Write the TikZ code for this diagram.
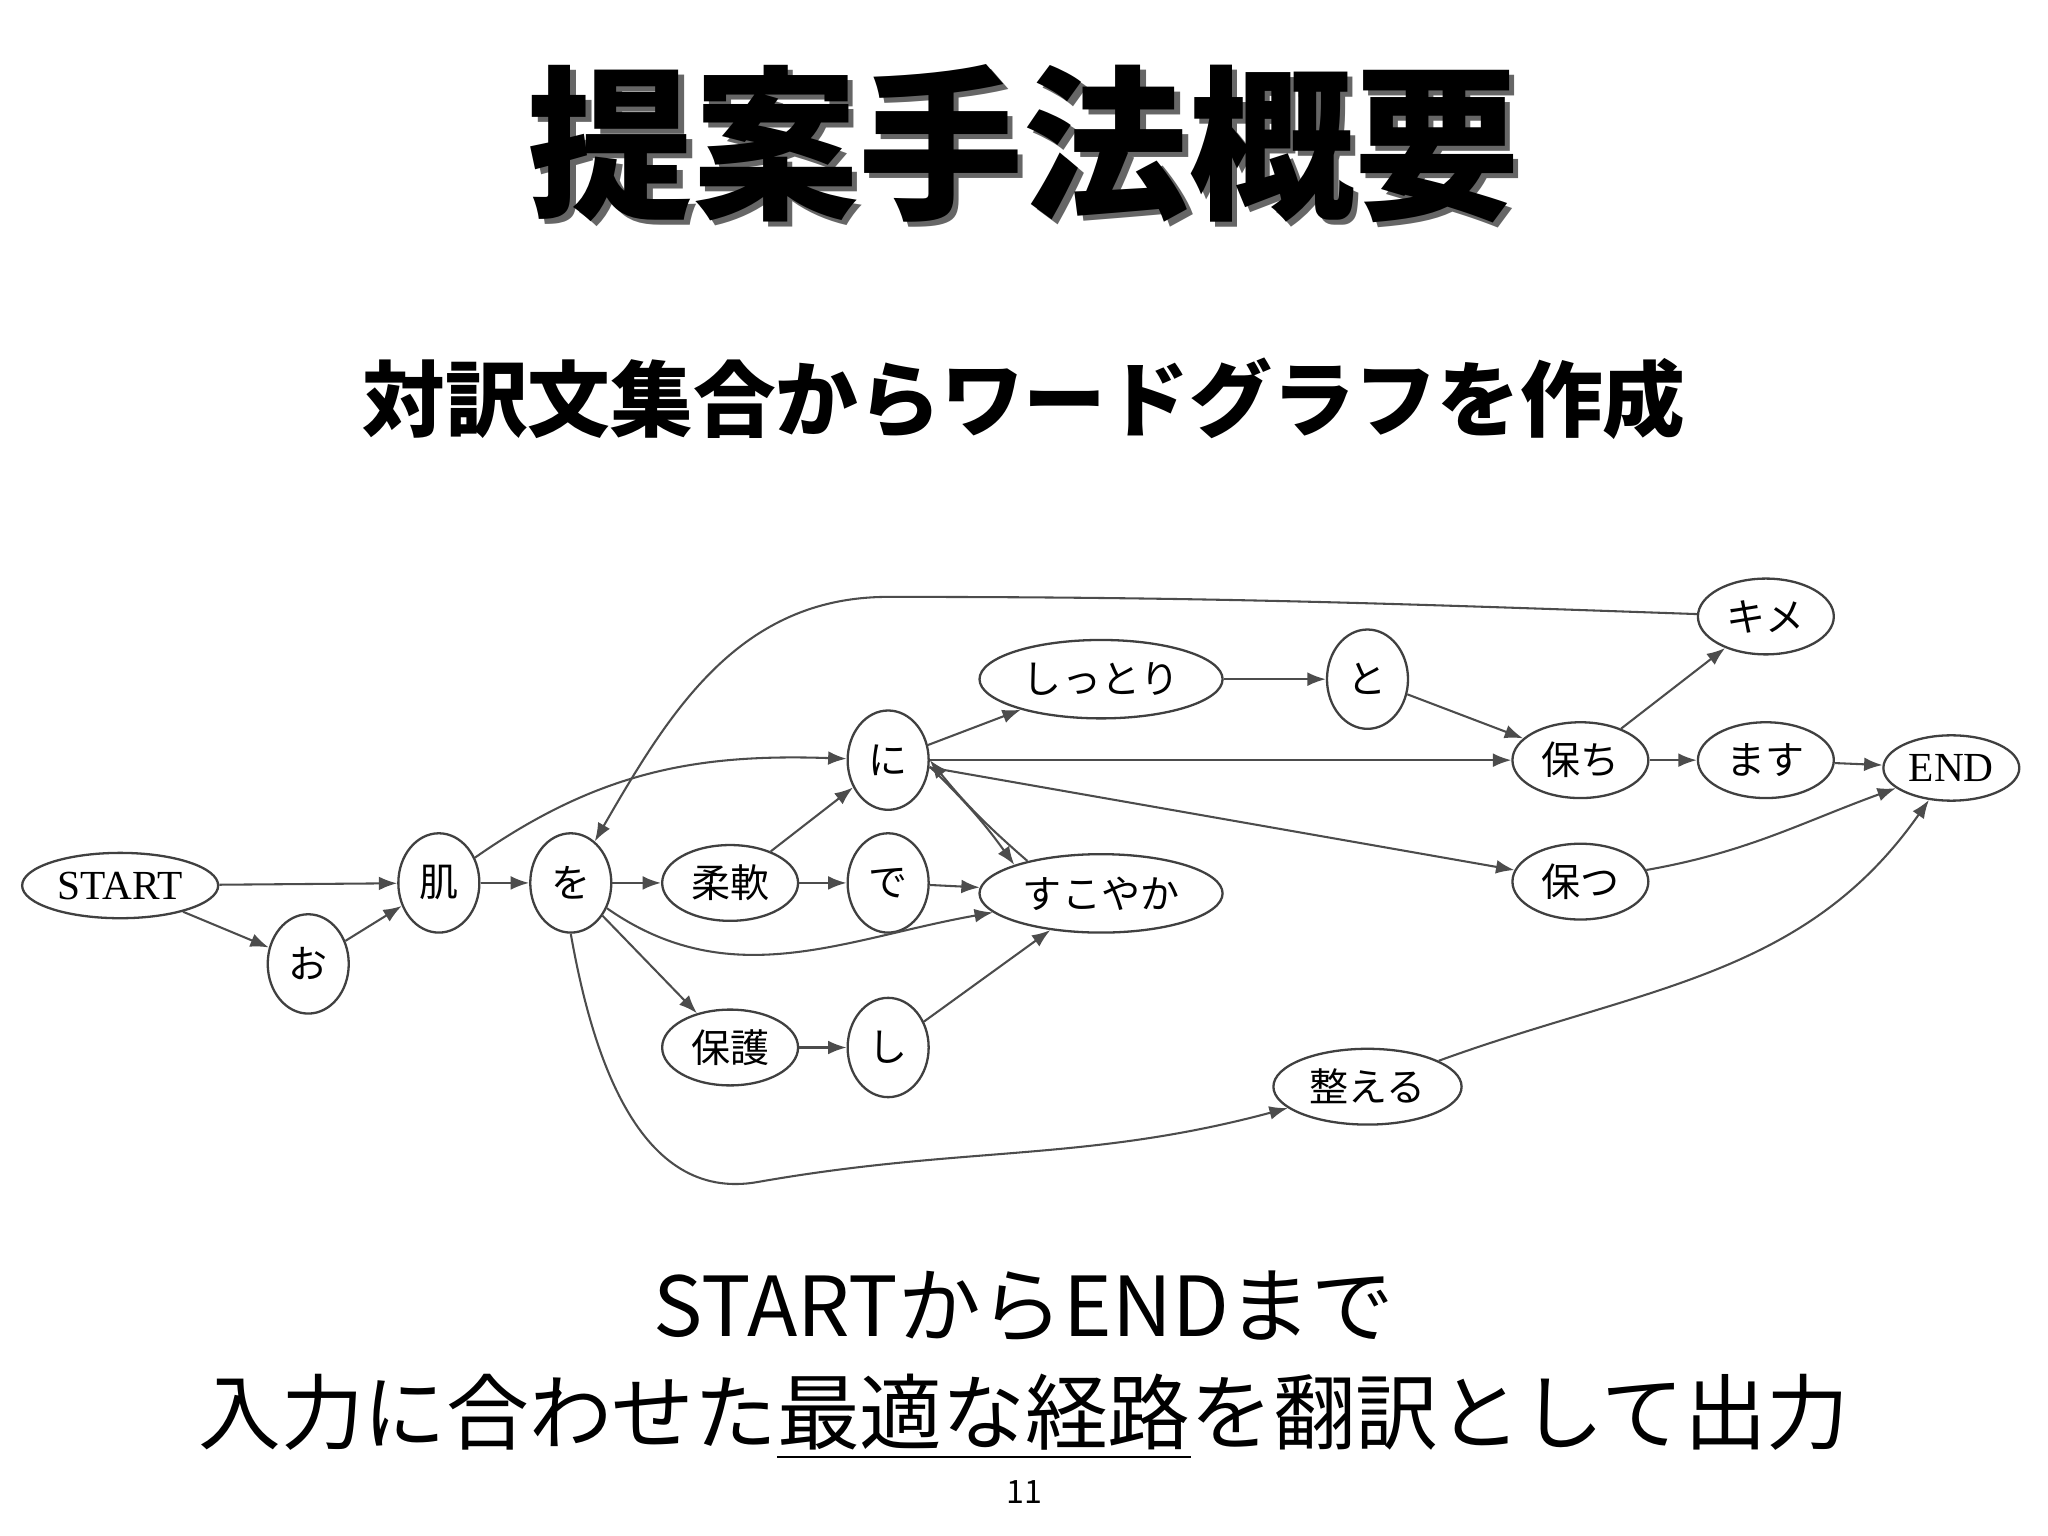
\documentclass[tikz,border=0pt]{standalone}
\usepackage{fontspec}
\setmainfont{Liberation Serif}
\newfontfamily\jp{Noto Sans CJK JP}
\newfontfamily\jpb{Noto Sans CJK JP Black}[FakeBold=0]
\usetikzlibrary{shapes.geometric,arrows.meta}
\begin{document}
\begin{tikzpicture}[x=0.01cm,y=-0.01cm,
  nd/.style={ellipse,draw=black!75,line width=0.5pt,inner sep=0pt,font=\fontsize{8.5}{10}\selectfont\jp},
  e/.style={draw=black!70,line width=0.45pt,-{Latex[length=4pt,width=3pt]}}]
\useasboundingbox (0,0) rectangle (1568,1176);
\fill[white] (0,0) rectangle (1568,1176);
% titles
\node[font=\fontsize{36}{40}\selectfont\jp\bfseries,text=black!60] at (788,114) {提案手法概要};
\node[font=\fontsize{36}{40}\selectfont\jp\bfseries] at (784,110) {提案手法概要};
\node[font=\fontsize{18}{22}\selectfont\jp\bfseries] at (784,305) {対訳文集合からワードグラフを作成};
\node[font=\fontsize{18}{22}\selectfont\jp] at (784,1000) {STARTからENDまで};
\node[font=\fontsize{18}{22}\selectfont\jp] (bt) at (784,1085) {入力に合わせた\underline{最適な経路}を翻訳として出力};
\node[font=\fontsize{7}{8}\selectfont\jp] at (784,1142) {11};
% nodes
\node[nd,minimum width=150\pgflinewidth,minimum width=1.5cm,minimum height=0.5cm,font=\fontsize{9}{10}\selectfont] (start) at (92,678) {START};
\node[nd,minimum width=0.62cm,minimum height=0.76cm] (o) at (236,738) {お};
\node[nd,minimum width=0.62cm,minimum height=0.76cm] (hada) at (336,676) {肌};
\node[nd,minimum width=0.62cm,minimum height=0.76cm] (wo) at (437,676) {を};
\node[nd,minimum width=1.04cm,minimum height=0.58cm] (ju) at (559,676) {柔軟};
\node[nd,minimum width=0.62cm,minimum height=0.76cm] (de) at (680,676) {で};
\node[nd,minimum width=1.86cm,minimum height=0.6cm] (suko) at (843,684) {すこやか};
\node[nd,minimum width=1.04cm,minimum height=0.58cm] (hogo) at (559,802) {保護};
\node[nd,minimum width=0.62cm,minimum height=0.76cm] (shi) at (680,802) {し};
\node[nd,minimum width=0.62cm,minimum height=0.76cm] (ni) at (680,582) {に};
\node[nd,minimum width=1.86cm,minimum height=0.6cm] (shit) at (843,520) {しっとり};
\node[nd,minimum width=0.62cm,minimum height=0.76cm] (to) at (1047,520) {と};
\node[nd,minimum width=1.04cm,minimum height=0.58cm] (tamochi) at (1210,582) {保ち};
\node[nd,minimum width=1.04cm,minimum height=0.58cm] (masu) at (1352,582) {ます};
\node[nd,minimum width=1.04cm,minimum height=0.5cm,font=\fontsize{9}{10}\selectfont] (end) at (1494,588) {END};
\node[nd,minimum width=1.04cm,minimum height=0.58cm] (kime) at (1352,472) {キメ};
\node[nd,minimum width=1.04cm,minimum height=0.58cm] (tamotsu) at (1210,675) {保つ};
\node[nd,minimum width=1.44cm,minimum height=0.58cm] (tot) at (1047,832) {整える};
% edges
\draw[e] (start) -- (hada);
\draw[e] (start) -- (o);
\draw[e] (o) -- (hada);
\draw[e] (hada) -- (wo);
\draw[e] (hada) to[out=35,in=178] (ni);
\draw[e] (wo) -- (ju);
\draw[e] (wo) to[out=-35,in=190] (suko);
\draw[e] (wo) -- (hogo);
\draw[e] (wo.south) to[out=-80,in=190] (580,905) to[out=10,in=195] (tot);
\draw[e] (ju) -- (ni);
\draw[e] (ju) -- (de);
\draw[e] (de) -- (suko);
\draw[e] (hogo) -- (shi);
\draw[e] (shi) -- (suko);
\draw[e] (ni) -- (shit);
\draw[e] (ni) -- (tamochi);
\draw[e] (ni) -- (tamotsu);
\draw[e] (ni.east) ++(0,5) to[bend left=5] (suko.north west);
\draw[e] (suko.north west) ++(10,-3) to[bend left=5] (ni.east);
\draw[e] (shit) -- (to);
\draw[e] (to) -- (tamochi);
\draw[e] (tamochi) -- (kime);
\draw[e] (tamochi) -- (masu);
\draw[e] (masu) -- (end);
\draw[e] (tamotsu) to[out=10,in=200] (end);
\draw[e] (tot) to[out=20,in=235] (end);
\draw[e] (kime) to[out=178,in=0] (680,457) to[out=180,in=60] (wo);
\end{tikzpicture}
\end{document}
